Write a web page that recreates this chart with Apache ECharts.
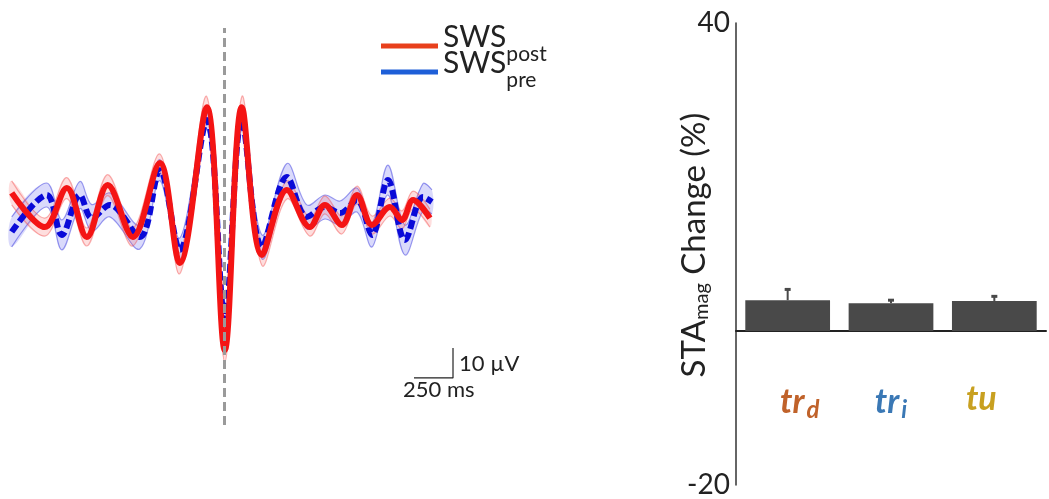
<!DOCTYPE html>
<html>
<head>
<meta charset="utf-8">
<script src="https://cdn.jsdelivr.net/npm/echarts@6/dist/echarts.min.js"></script>
<style>
  html, body { margin: 0; padding: 0; background: #fff; }
  #chart { width: 1049px; height: 499px; }
</style>
</head>
<body>
<div id="chart"></div>
<script>
// left panel: spike-triggered waveforms (time in ms, amplitude in uV)
var postTimes = [-1359, -1147, -1006, -878, -744, -583, -410, -282, -109, 6, 115, 244, 404, 551, 647, 756, 853, 949, 1064, 1141, 1212, 1320]
var postVals  = [5.7, -5.7, 7.3, -9, 8.3, -9, 15.7, -17.7, 34.3, -46.7, 34.3, -15, 6.7, -5.7, 1.7, -5, 5, -5, 1, -3.3, 3.3, -2.7]
var postSem   = [4, 3, 3.5, 3, 3.5, 3, 3, 3.5, 3.5, 4, 3.5, 3.5, 3, 3, 3, 3, 3, 3, 3, 3, 3, 3]

var preTimes = [-1359, -1135, -1038, -923, -846, -731, -538, -410, -282, -109, 6, 115, 244, 404, 532, 647, 744, 853, 949, 1051, 1160, 1276, 1333]
var preVals  = [-7.3, 5, -8.3, 5, -2.7, 1.7, -9, 13.3, -13.3, 30, -35.7, 30, -12.3, 11, -2.3, 1, -1, 3.3, -8.3, 10, -10, 4.3, 2.7]
var preSem   = [5, 4, 5, 4.5, 4.5, 4, 4, 3.5, 4, 3, 4, 3, 4, 4.5, 4, 4, 4, 4, 4, 5, 5, 4.5, 4]

// scale bar: 250 ms x 10 uV
var scaleBar = [[1218, -56], [1468, -56], [1468, -46]]

// right panel: STA magnitude change (%)
var categories = ['tr_d', 'tr_i', 'tu']
var barVals = [4.0, 3.6, 3.9]
var barErr = [1.4, 0.4, 0.6]
var yTicks = [-20, 40]

var myChart = echarts.init(document.getElementById('chart'))

function pairs(ts, vs) {
  return ts.map(function (t, i) { return [t, vs[i]] })
}

// shaded band (mean +- sem) drawn as one smoothed polygon
function bandSeries(name, ts, vs, ss, fill, edge) {
  return {
    name: name, type: 'custom', xAxisIndex: 0, yAxisIndex: 0, silent: true,
    data: [0],
    renderItem: function (params, api) {
      var up = ts.map(function (t, i) { return api.coord([t, vs[i] + ss[i]]) })
      var lo = ts.map(function (t, i) { return api.coord([t, vs[i] - ss[i]]) })
      return {
        type: 'group',
        children: [
          { type: 'polygon', shape: { points: up.concat(lo.slice().reverse()), smooth: 0.35 }, style: { fill: fill } },
          { type: 'polyline', shape: { points: up, smooth: 0.35 }, style: { stroke: edge, lineWidth: 1.2, fill: null } },
          { type: 'polyline', shape: { points: lo, smooth: 0.35 }, style: { stroke: edge, lineWidth: 1.2, fill: null } }
        ]
      }
    }
  }
}

var fontName = 'Lato'

// one legend per row so the rows can sit close together
function legendRow(name, color, top) {
  return {
    left: 376,
    top: top,
    itemWidth: 57,
    itemHeight: 5,
    icon: 'rect',
    data: [{ name: name, itemStyle: { color: color } }],
    formatter: function (n) {
      return '{a|SWS}{b|' + n.split('_')[1] + '}'
    },
    textStyle: {
      rich: {
        a: { fontSize: 30, color: '#222', lineHeight: 22, padding: [0, 0, 18, 0], fontFamily: fontName },
        b: { fontSize: 21, color: '#222', lineHeight: 18, padding: [17, 0, 0, 0], fontFamily: fontName }
      }
    }
  }
}

var option = {
  animation: false,
  textStyle: { fontFamily: fontName },
  legend: [
    legendRow('SWS_post', '#e8401c', 17),
    legendRow('SWS_pre', '#1e5fd8', 43)
  ],
  grid: [
    { left: 10, top: 28, width: 448, height: 397, outerBoundsMode: 'none' },
    { left: 736, top: 23, right: 3, bottom: 14, outerBoundsMode: 'none' }
  ],
  xAxis: [
    { type: 'value', gridIndex: 0, min: -1370, max: 1500, show: false },
    {
      type: 'category',
      gridIndex: 1,
      data: [
        { value: categories[0], textStyle: { padding: [0, 0, 0, 24] } },
        { value: categories[1] },
        { value: categories[2], textStyle: { padding: [0, 26, 0, 0] } }
      ],
      axisTick: { show: false },
      axisLine: { onZero: true, lineStyle: { color: '#222', width: 2 } },
      axisLabel: {
        margin: -103,
        formatter: function (v) {
          if (v === 'tr_d') return '{d|tr}{ds|d}'
          if (v === 'tr_i') return '{i|tr}{is|i}'
          return '{u|tu}'
        },
        rich: {
          d: { color: '#c0622a', fontSize: 34, fontWeight: 'bold', fontStyle: 'italic', fontFamily: fontName },
          ds: { color: '#c0622a', fontSize: 24, fontWeight: 'bold', fontStyle: 'italic', padding: [16, 0, 0, 2], fontFamily: fontName },
          i: { color: '#3a78b5', fontSize: 34, fontWeight: 'bold', fontStyle: 'italic', fontFamily: fontName },
          is: { color: '#3a78b5', fontSize: 24, fontWeight: 'bold', fontStyle: 'italic', padding: [16, 0, 0, 2], fontFamily: fontName },
          u: { color: '#c8a020', fontSize: 34, fontWeight: 'bold', fontStyle: 'italic', fontFamily: fontName }
        }
      }
    }
  ],
  yAxis: [
    { type: 'value', gridIndex: 0, min: -71.7, max: 60.7, show: false },
    {
      type: 'value',
      gridIndex: 1,
      min: -20,
      max: 40,
      splitLine: { show: false },
      axisTick: { show: false },
      axisLine: { show: true, lineStyle: { color: '#333', width: 1.5 } },
      axisLabel: {
        customValues: yTicks,
        fontSize: 28,
        color: '#222',
        margin: 6
      },
      name: '{a|STA}{b|mag}{a| Change (%)}',
      nameLocation: 'middle',
      nameGap: 22,
      nameMoveOverlap: false,
      nameRotate: 90,
      nameTextStyle: {
        padding: [0, 0, 0, 18],
        rich: {
          a: { fontSize: 33, color: '#222', lineHeight: 40, fontFamily: fontName },
          b: { fontSize: 20, color: '#222', lineHeight: 40, padding: [16, 0, 0, 0], fontFamily: fontName }
        }
      }
    }
  ],
  series: [
    bandSeries('preBand', preTimes, preVals, preSem, 'rgba(70,70,235,0.2)', 'rgba(40,40,220,0.45)'),
    bandSeries('postBand', postTimes, postVals, postSem, 'rgba(250,90,90,0.2)', 'rgba(240,60,60,0.4)'),
    // mean lines
    {
      name: 'SWS_pre', type: 'line', xAxisIndex: 0, yAxisIndex: 0,
      smooth: 0.35, symbol: 'none',
      lineStyle: { color: '#0a0ad8', width: 6, type: [9, 4] },
      data: pairs(preTimes, preVals)
    },
    {
      name: 'SWS_post', type: 'line', xAxisIndex: 0, yAxisIndex: 0,
      smooth: 0.35, symbol: 'none',
      lineStyle: { color: '#f41414', width: 6 },
      data: pairs(postTimes, postVals),
      markLine: {
        silent: true,
        symbol: 'none',
        label: { show: false },
        lineStyle: { color: '#9a9a9a', width: 3, type: [9, 5] },
        data: [{ xAxis: 0 }]
      }
    },
    {
      name: 'scale', type: 'line', xAxisIndex: 0, yAxisIndex: 0,
      symbol: 'none',
      lineStyle: { color: '#222', width: 1.2 },
      data: scaleBar
    },
    // bars
    {
      name: 'STA', type: 'bar', xAxisIndex: 1, yAxisIndex: 1,
      barWidth: '82%',
      itemStyle: { color: '#494949' },
      data: barVals
    },
    {
      name: 'err', type: 'custom', xAxisIndex: 1, yAxisIndex: 1,
      data: barVals.map(function (v, i) { return [i, v, barErr[i]] }),
      renderItem: function (params, api) {
        var x = api.value(0)
        var lo = api.coord([x, api.value(1)])
        var hi = api.coord([x, api.value(1) + api.value(2)])
        return {
          type: 'group',
          children: [
            { type: 'line', shape: { x1: lo[0], y1: lo[1], x2: hi[0], y2: hi[1] }, style: { stroke: '#494949', lineWidth: 2 } },
            { type: 'line', shape: { x1: hi[0] - 3, y1: hi[1], x2: hi[0] + 3, y2: hi[1] }, style: { stroke: '#494949', lineWidth: 3 } }
          ]
        }
      }
    }
  ],
  graphic: [
    { type: 'text', left: 459, top: 353, style: { text: '10 µV', fontSize: 22, fill: '#222', fontFamily: fontName } },
    { type: 'text', left: 403, top: 379, style: { text: '250 ms', fontSize: 22, fill: '#222', fontFamily: fontName } }
  ]
}

myChart.setOption(option)
</script>
</body>
</html>
